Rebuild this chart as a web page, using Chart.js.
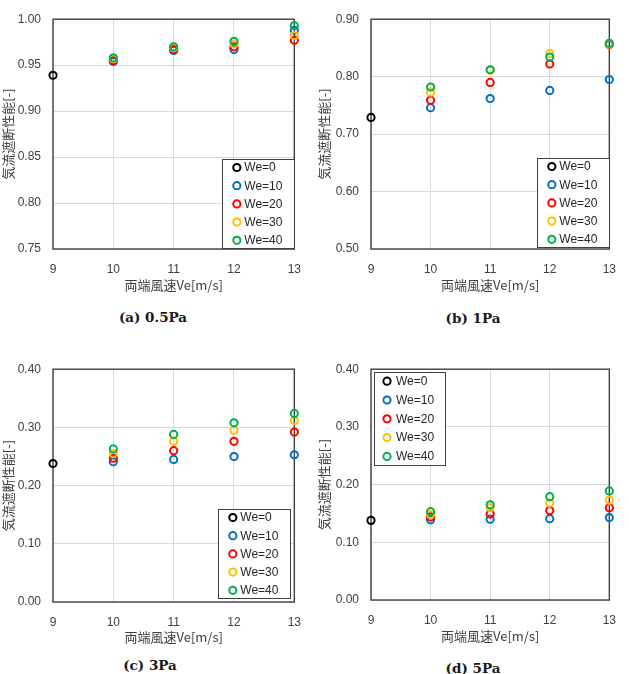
<!DOCTYPE html>
<html><head><meta charset="utf-8">
<script src="https://cdn.jsdelivr.net/npm/chart.js@4"></script>
<style>
body{margin:0;background:#fff;width:629px;height:674px;position:relative;overflow:hidden}
canvas{position:absolute}
.cap{position:absolute;font-family:'DejaVu Serif',serif;font-size:13.5px;font-weight:bold;color:#1a1a1a;transform:translate(-50%,-50%);white-space:nowrap}
</style></head><body>
<canvas id="ca" style="left:0;top:0" width="314" height="300"></canvas>
<canvas id="cb" style="left:316px;top:0" width="313" height="300"></canvas>
<canvas id="cc" style="left:0;top:350px" width="314" height="300"></canvas>
<canvas id="cd" style="left:316px;top:350px" width="313" height="300"></canvas>
<div class="cap" style="left:153px;top:317px">(a) 0.5Pa</div>
<div class="cap" style="left:473px;top:318px">(b) 1Pa</div>
<div class="cap" style="left:150px;top:665px">(c) 3Pa</div>
<div class="cap" style="left:473px;top:668px">(d) 5Pa</div>
<script>
// ---- data ----
const xTicks = [9, 10, 11, 12, 13];
const xBase = [9];
const xWe = [10, 11, 12, 13];
const seriesNames = ['We=0', 'We=10', 'We=20', 'We=30', 'We=40'];
const xTitle = '両端風速Ve[m/s]';
const yTitle = '気流遮断性能[-]';

// (a) 0.5Pa
const a_we0  = [0.939];
const a_we10 = [0.954, 0.966, 0.967, 0.988];
const a_we20 = [0.955, 0.967, 0.970, 0.977];
const a_we30 = [0.957, 0.969, 0.973, 0.982];
const a_we40 = [0.958, 0.970, 0.976, 0.993];
// (b) 1Pa
const b_we0  = [0.729];
const b_we10 = [0.746, 0.762, 0.776, 0.795];
const b_we20 = [0.759, 0.790, 0.822, 0.856];
const b_we30 = [0.773, 0.811, 0.840, 0.857];
const b_we40 = [0.782, 0.812, 0.834, 0.858];
// (c) 3Pa
const c_we0  = [0.238];
const c_we10 = [0.241, 0.245, 0.250, 0.253];
const c_we20 = [0.247, 0.260, 0.276, 0.292];
const c_we30 = [0.255, 0.276, 0.295, 0.312];
const c_we40 = [0.263, 0.288, 0.308, 0.324];
// (d) 5Pa
const d_we0  = [0.138];
const d_we10 = [0.139, 0.140, 0.141, 0.143];
const d_we20 = [0.144, 0.149, 0.155, 0.160];
const d_we30 = [0.148, 0.160, 0.168, 0.173];
const d_we40 = [0.153, 0.165, 0.179, 0.189];

// ---- styles ----
const seriesColors = ['#000000', '#0070C0', '#FF0000', '#FFC000', '#00B050'];
const TXT = '#404040';

const boxPlugin = {
  id: 'plotBox',
  beforeDatasetsDraw(chart) {
    const {ctx, chartArea: c} = chart;
    ctx.save();
    ctx.strokeStyle = '#404040';
    ctx.lineWidth = 1.4;
    ctx.strokeRect(c.left, c.top, c.width, c.height);
    ctx.restore();
  }
};
const legendPlugin = {
  id: 'inLegend',
  afterDraw(chart, args, o) {
    const {ctx, chartArea: c} = chart;
    const w = o.w, h = o.h;
    const x0 = o.corner === 'br' ? c.right - o.dx - w : c.left + o.dx;
    const y0 = o.corner === 'br' ? c.bottom - o.dy - h : c.top + o.dy;
    ctx.save();
    ctx.fillStyle = '#fff';
    ctx.fillRect(x0, y0, w, h);
    ctx.strokeStyle = '#404040';
    ctx.lineWidth = 1;
    ctx.strokeRect(Math.round(x0) + 0.5, Math.round(y0) + 0.5, w, h);
    ctx.font = '12px "Liberation Sans"';
    ctx.textBaseline = 'middle';
    chart.data.datasets.forEach((d, i) => {
      const cy = y0 + o.first + i * o.step;
      ctx.beginPath();
      ctx.arc(x0 + o.mx, cy, 3.6, 0, Math.PI * 2);
      ctx.strokeStyle = d.borderColor;
      ctx.lineWidth = 2;
      ctx.stroke();
      ctx.fillStyle = '#262626';
      ctx.fillText(d.label, x0 + o.tx, cy + 0.5);
    });
    ctx.restore();
  }
};

function makeChart(id, series, cfg) {
  const datasets = series.map((vals, i) => {
    const xs = i === 0 ? xBase : xWe;
    return {
      label: seriesNames[i],
      data: vals.map((v, k) => ({x: xs[k], y: v})),
      borderColor: seriesColors[i],
      backgroundColor: 'rgba(0,0,0,0)',
      pointRadius: 3.6,
      pointHoverRadius: 3.6,
      borderWidth: 2,
      pointBorderWidth: 2,
      showLine: false,
      clip: false,
      order: series.length - 1 - i
    };
  });
  return new Chart(document.getElementById(id), {
    type: 'scatter',
    data: {datasets},
    plugins: [boxPlugin, legendPlugin],
    options: {
      responsive: false,
      animation: false,
      layout: {padding: {left: 0, top: cfg.padTop, right: cfg.padRight, bottom: 0}},
      plugins: {
        legend: {display: false},
        tooltip: {enabled: false},
        inLegend: cfg.legend
      },
      scales: {
        x: {
          type: 'linear', min: 9, max: 13,
          afterBuildTicks: s => { s.ticks = xTicks.map(v => ({value: v})); },
          afterFit: s => { s.height = cfg.xH; },
          grid: {color: '#d9d9d9', lineWidth: 1, drawTicks: false},
          border: {display: false},
          ticks: {padding: 13, color: TXT, font: {family: 'Liberation Sans', size: 12}, maxRotation: 0},
          title: {display: true, text: xTitle, color: TXT, padding: {top: 0, bottom: cfg.xtPad},
                  font: {family: '"Noto Sans CJK JP"', size: 13}}
        },
        y: {
          type: 'linear', min: cfg.yMin, max: cfg.yMax,
          ticks: {stepSize: cfg.yStep, padding: 12, color: TXT, font: {family: 'Liberation Sans', size: 12},
                  callback: v => Number(v).toFixed(2)},
          afterFit: s => { s.width = cfg.yW; },
          grid: {color: '#d9d9d9', lineWidth: 1, drawTicks: false},
          border: {display: false},
          title: {display: true, text: yTitle, color: TXT, padding: {top: 0, bottom: 0},
                  font: {family: '"Noto Sans CJK JP"', size: 13}}
        }
      }
    }
  });
}

const legBR = (dx, dy) => ({corner: 'br', dx, dy, w: 72, h: 89, first: 8.5, step: 18.2, mx: 14.5, tx: 22});
makeChart('ca', [a_we0, a_we10, a_we20, a_we30, a_we40],
  {padTop: 10, padRight: 17, yW: 53, xH: 51, xtPad: 7, yMin: 0.75, yMax: 1.0, yStep: 0.05, legend: legBR(0, 1)});
makeChart('cb', [b_we0, b_we10, b_we20, b_we30, b_we40],
  {padTop: 10, padRight: 13, yW: 55, xH: 51, xtPad: 7, yMin: 0.5, yMax: 0.9, yStep: 0.1, legend: legBR(0, 2)});
makeChart('cc', [c_we0, c_we10, c_we20, c_we30, c_we40],
  {padTop: 12, padRight: 17, yW: 53, xH: 48, xtPad: 5.5, yMin: 0, yMax: 0.4, yStep: 0.1, legend: legBR(4, 4)});
makeChart('cd', [d_we0, d_we10, d_we20, d_we30, d_we40],
  {padTop: 12, padRight: 13, yW: 55, xH: 50, xtPad: 6, yMin: 0, yMax: 0.4, yStep: 0.1,
   legend: {corner: 'tl', dx: 3, dy: 3, w: 71, h: 93, first: 9, step: 18.8, mx: 13, tx: 22}});
</script>
</body></html>
